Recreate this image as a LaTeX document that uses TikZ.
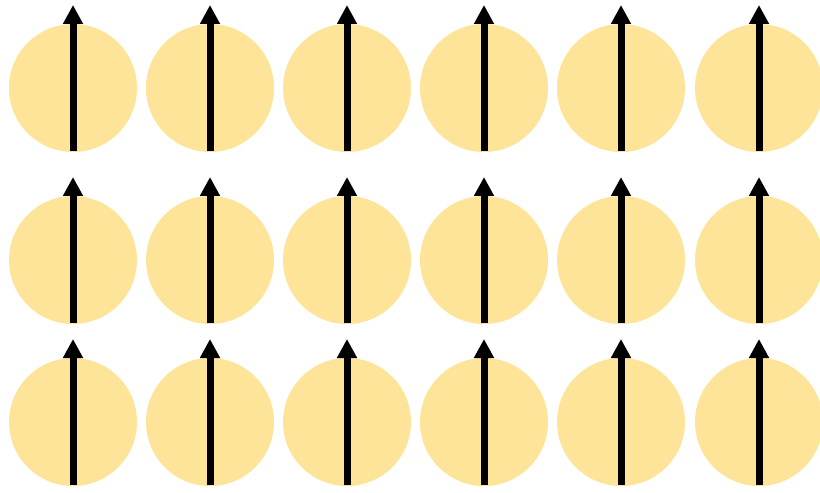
\documentclass[tikz,border=0pt]{standalone}
\usetikzlibrary{arrows.meta}
\definecolor{spinfill}{RGB}{254,228,153}
\begin{document}
\begin{tikzpicture}[
    % === STYLES ===
    site/.style={
        circle,
        fill=spinfill,
        minimum size=2.56cm,
        inner sep=0pt
    },
    spinarrow/.style={
        -{Triangle[length=0.38cm, width=0.38cm]},
        line width=0.14cm,
        color=black
    }
]
\useasboundingbox (0,0) rectangle (16.4,9.84);

% === LATTICE OF SPINS ===
\foreach \y [count=\r] in {8.08,4.64,1.40} {
    \foreach \x [count=\c] in {1.46,4.20,6.94,9.68,12.42,15.18} {
        \node[site] (s\r\c) at (\x,\y) {};
        \coordinate (t\r\c) at ([yshift=1.66cm]s\r\c.center);
        \draw[spinarrow] ([yshift=0.02cm]s\r\c.south) -- (t\r\c);
    }
}

\end{tikzpicture}
\end{document}
